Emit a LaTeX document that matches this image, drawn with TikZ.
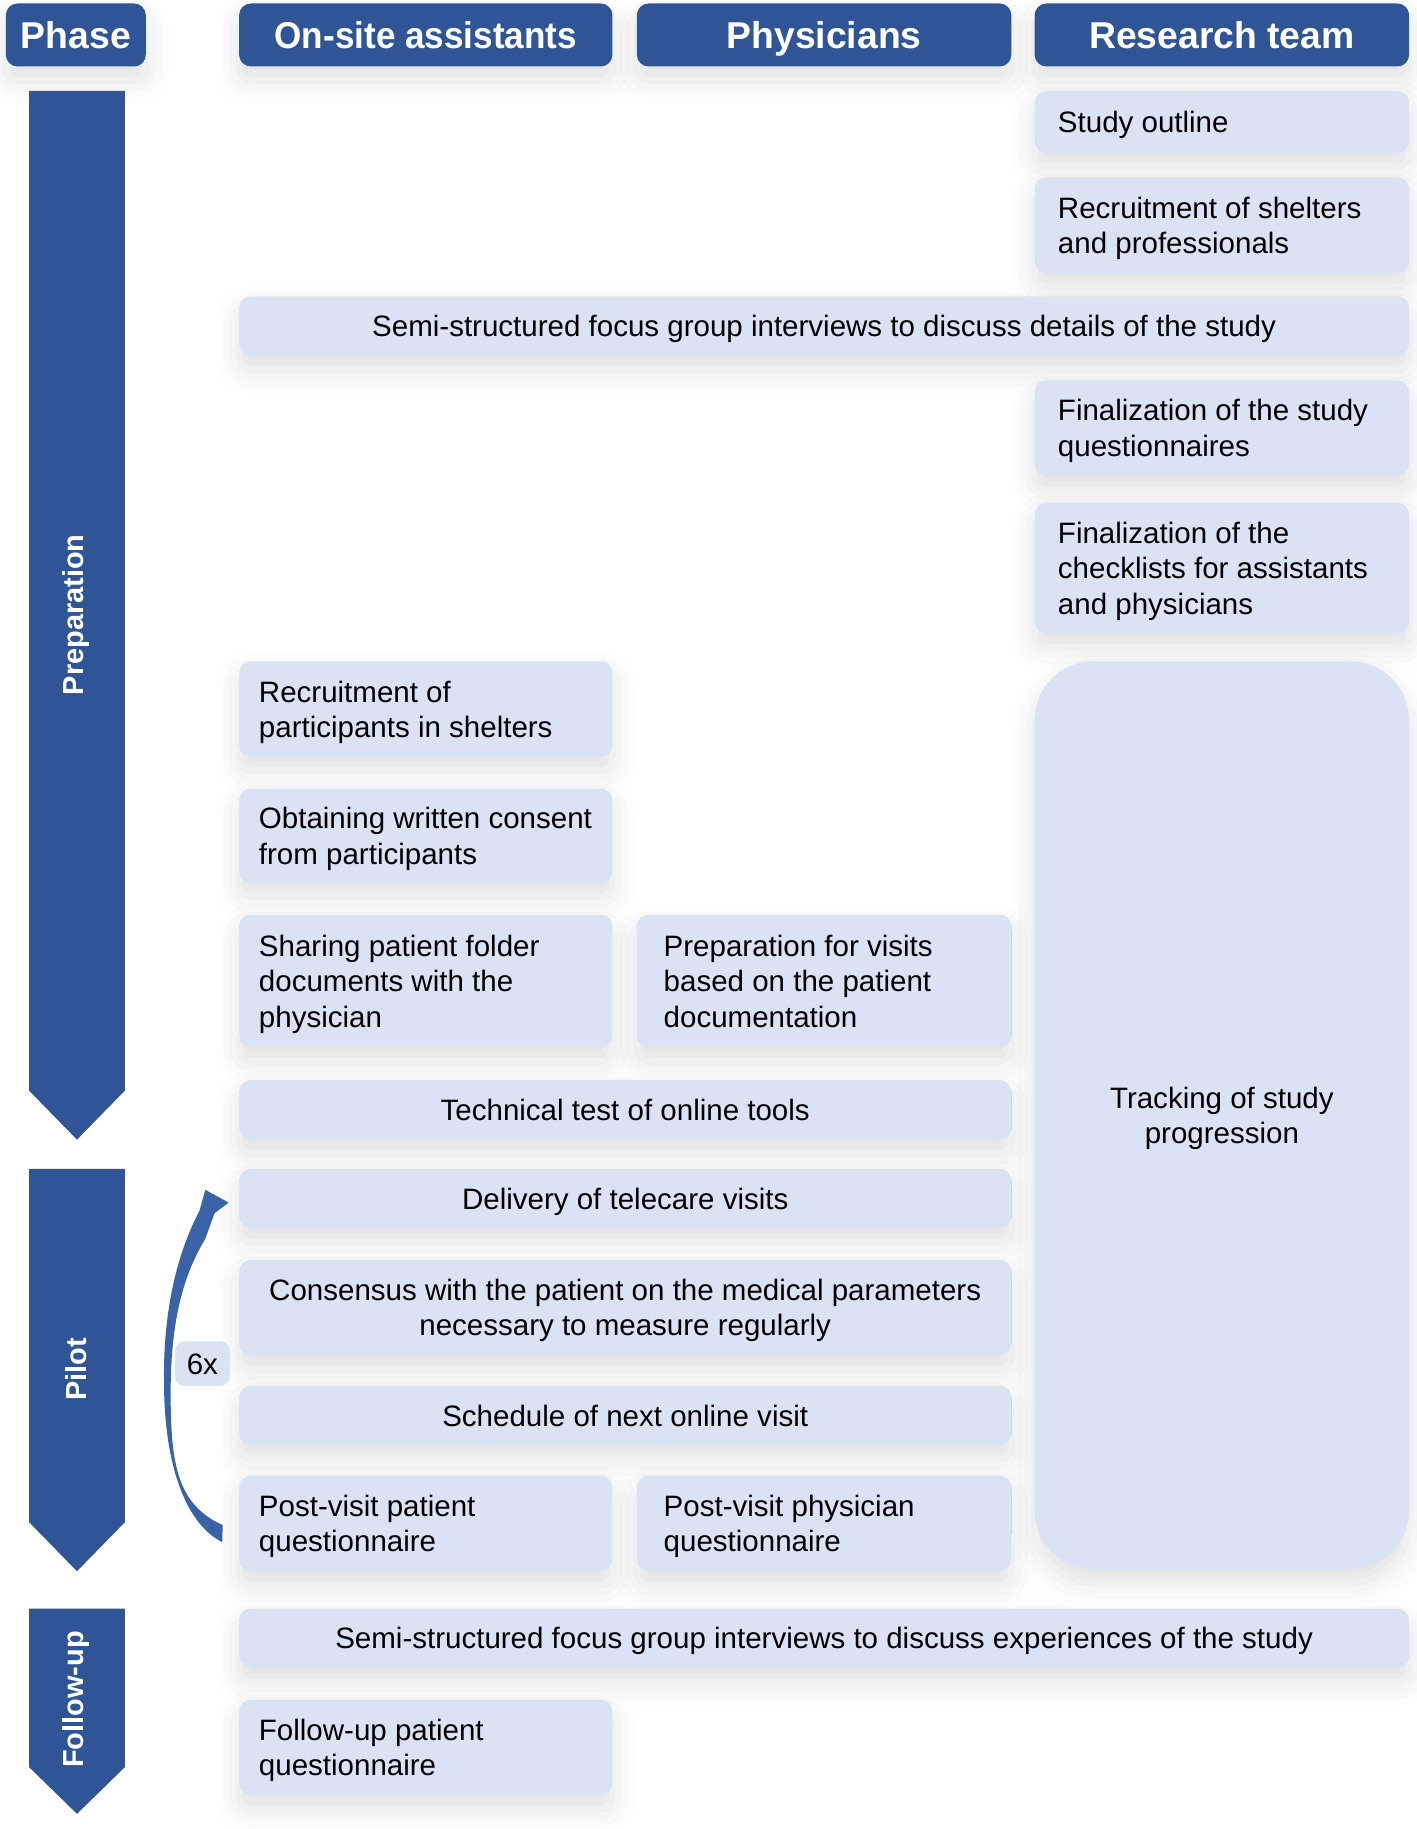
\documentclass[tikz,border=0pt]{standalone}
\usepackage{fontspec}
\setmainfont{Liberation Sans}
\usetikzlibrary{shadows.blur}
\definecolor{dblue}{HTML}{2F5597}
\definecolor{lblue}{HTML}{DAE3F3}
\definecolor{ablue}{HTML}{3A62A7}
\begin{document}
\begin{tikzpicture}[x=0.5pt,y=-0.5pt,
  shad/.style={blur shadow={shadow xshift=0pt,shadow yshift=-6pt,shadow blur radius=10pt,shadow opacity=12}},
  hdr/.style={fill=dblue, rounded corners=5pt, text=white, font=\bfseries\fontsize{16}{19}\selectfont, minimum height=27pt, inner sep=0pt, text height=11.7pt, text depth=0pt, shad},
  box/.style={fill=lblue, rounded corners=5pt, font=\fontsize{12.65}{15.2}\selectfont, inner ysep=0pt},
  sbox/.style={box, shad},
  lone/.style={text height=9.1pt, text depth=0pt},
  ltwo/.style={text height=9.1pt, text depth=15.2pt},
  lthree/.style={text height=9.1pt, text depth=30.4pt},
  cone/.style={sbox, align=flush left, inner xsep=8.5pt, text width=143pt},
  ctwo/.style={sbox, align=flush left, inner xsep=11.5pt, text width=137.5pt},
  rteam/.style={sbox, align=flush left, inner xsep=10pt, text width=140.5pt},
  wide/.style={sbox, align=flush center, inner xsep=0pt, text width=501.5pt, minimum height=25.5pt},
  midbox/.style={sbox, align=flush center, inner xsep=0pt, text width=331pt},
  phaselbl/.style={text=white, font=\bfseries\fontsize{12.4}{14}\selectfont, rotate=90, inner sep=0pt}
]
\useasboundingbox (0,0) rectangle (1214,1568);

% headers
\node[hdr, minimum width=60pt] (hPhase) at (65,30) {Phase};
\node[hdr, minimum width=160pt] (hOn) at (365,30) {\scalebox{0.94}[1]{On-site assistants}};
\node[hdr, minimum width=160.5pt] (hPhys) at (706.5,30) {Physicians};
\node[hdr, minimum width=160.5pt] (hRes) at (1047.5,30) {Research team};

% phase arrows
\fill[dblue] (25,78) -- (107,78) -- (107,935) -- (66,977) -- (25,935) -- cycle;
\node[phaselbl] (lPrep) at (65,527) {Preparation};
\fill[dblue] (25,1002) -- (107,1002) -- (107,1305) -- (66,1347) -- (25,1305) -- cycle;
\node[phaselbl] (lPilot) at (65,1174) {Pilot};
\fill[dblue] (25,1379) -- (107,1379) -- (107,1515) -- (66,1555) -- (25,1515) -- cycle;
\node[phaselbl] (lFollow) at (65,1457) {Follow-up};

% on-site / physicians (preparation)
\node[cone, ltwo, minimum height=41pt] (cRecruit) at (365,608) {Recruitment of\\participants in shelters};
\node[cone, ltwo, minimum height=40.5pt] (cConsent) at (365,716.5) {\mbox{Obtaining written consent}\\from participants};
\node[cone, lthree, minimum height=57pt] (cShare) at (365,841) {Sharing patient folder\\documents with the\\physician};
\node[ctwo, lthree, minimum height=57pt] (pPrep) at (706.5,841) {Preparation for visits\\based on the patient\\documentation};
\node[midbox, lone, minimum height=25.5pt] (mTech) at (536,951.5) {Technical test of online tools};

% pilot
\node[midbox, lone, minimum height=25.5pt] (mDeliv) at (536,1027.5) {Delivery of telecare visits};
\node[midbox, ltwo, minimum height=41pt] (mCons) at (536,1121) {Consensus with the patient on the medical parameters\\necessary to measure regularly};
\node[midbox, lone, minimum height=25.5pt] (mSched) at (536,1213.5) {Schedule of next online visit};
\node[cone, ltwo, minimum height=41pt] (cPostP) at (365,1306) {Post-visit patient\\questionnaire};
\node[ctwo, ltwo, minimum height=41pt] (pPostPh) at (706.5,1306) {Post-visit physician\\questionnaire};
\node[box, lone, inner xsep=0pt, minimum width=23.5pt, minimum height=19pt, rounded corners=4pt] (six) at (173.5,1169) {6x};

% research team column
\node[rteam, lone, minimum height=26.5pt] (rOutline) at (1047.5,104.5) {Study outline};
\node[rteam, ltwo, minimum height=41pt] (rRecruit) at (1047.5,193) {Recruitment of shelters\\and professionals};
\node[wide, lone] (wFocus1) at (706.5,279.5) {Semi-structured focus group interviews to discuss details of the study};
\node[rteam, ltwo, minimum height=41pt] (rFinQ) at (1047.5,367) {Finalization of the study\\questionnaires};
\node[rteam, lthree, minimum height=56pt] (rFinC) at (1047.5,487) {Finalization of the\\checklists for assistants\\and physicians};
\node[sbox, ltwo, align=flush center, inner xsep=0pt, text width=160.5pt, minimum height=389pt, rounded corners=25pt] (rTrack) at (1047.5,956) {Tracking of study\\progression};

% curved repeat arrow (from post-visit questionnaires back to telecare visits)
\fill[ablue] (190.5,1322)
  .. controls (162,1308) and (140.5,1262) .. (140.6,1183)
  .. controls (140,1128) and (150,1078) .. (171,1038)
  -- (176,1020) -- (196,1031) -- (184,1040) -- (176,1062)
  .. controls (158,1092) and (146,1130) .. (146.3,1197)
  .. controls (146.5,1255) and (152,1290) .. (190.9,1307.4)
  -- cycle;

% follow-up
\node[wide, lone] (wFocus2) at (706.5,1404.5) {Semi-structured focus group interviews to discuss experiences of the study};
\node[cone, ltwo, minimum height=41pt] (cFollow) at (365,1498) {Follow-up patient\\questionnaire};
\end{tikzpicture}
\end{document}
